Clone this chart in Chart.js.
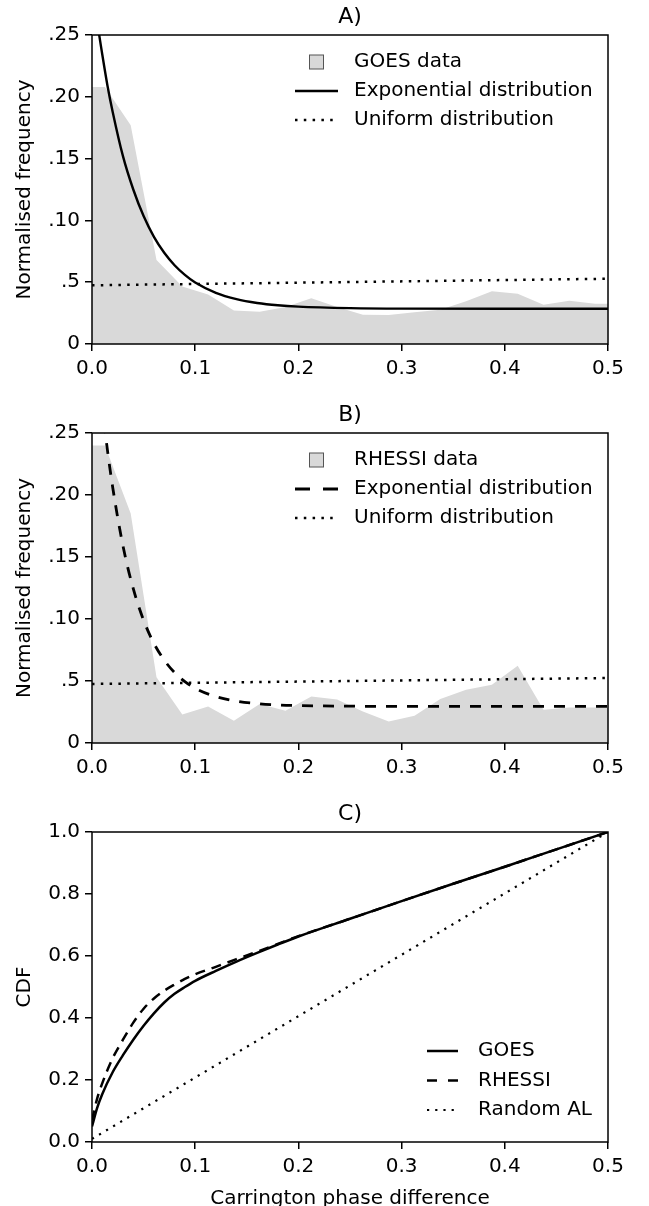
<!DOCTYPE html>
<html>
<head>
<meta charset="utf-8">
<script src="https://cdn.jsdelivr.net/npm/chart.js@4.4.1/dist/chart.umd.min.js"></script>
<style>
  html, body { margin: 0; padding: 0; background: #fff; }
  body { width: 649px; height: 1206px; position: relative; overflow: hidden; }
  .panel { position: absolute; left: 0; width: 649px; }
  canvas { display: block; }
</style>
</head>
<body>
<div class="panel" style="top:0;height:390px"><canvas id="chartA" width="649" height="390"></canvas></div>
<div class="panel" style="top:398px;height:391px"><canvas id="chartB" width="649" height="391"></canvas></div>
<div class="panel" style="top:797px;height:409px"><canvas id="chartC" width="649" height="409"></canvas></div>
<script>
// values
const histPhase = [0, 0.0125, 0.0375, 0.0625, 0.0875, 0.1125, 0.1375, 0.1625, 0.1875, 0.2125, 0.2375,
    0.2625, 0.2875, 0.3125, 0.3375, 0.3625, 0.3875, 0.4125, 0.4375, 0.4625, 0.4875, 0.5];
const goesFreq = [0.208, 0.208, 0.177, 0.068, 0.0466, 0.040, 0.0272, 0.0261, 0.030, 0.037, 0.030,
    0.0237, 0.0235, 0.0256, 0.0277, 0.0345, 0.0426, 0.0407, 0.0318, 0.035, 0.0326, 0.0326];
const rhessiFreq = [0.240, 0.240, 0.185, 0.053, 0.023, 0.0295, 0.018, 0.0315, 0.026, 0.0376, 0.035,
    0.0255, 0.0174, 0.022, 0.0355, 0.043, 0.047, 0.0623, 0.0269, 0.0287, 0.0287, 0.0285];

const expPhase = [0, 0.005, 0.01, 0.015, 0.02, 0.03, 0.04, 0.05, 0.06, 0.07, 0.08, 0.09, 0.10,
    0.12, 0.14, 0.16, 0.18, 0.20, 0.25, 0.30, 0.40, 0.50];
const goesExp = [0.292, 0.261, 0.234, 0.209, 0.188, 0.152, 0.125, 0.1035, 0.0867, 0.0738, 0.0637, 0.0559, 0.0497,
    0.0414, 0.0363, 0.0332, 0.0313, 0.0302, 0.029, 0.0286, 0.0285, 0.0285];
const rhessiExp = [0.36, 0.312, 0.271, 0.236, 0.2065, 0.159, 0.1244, 0.099, 0.0804, 0.0668, 0.0568, 0.0495, 0.0441,
    0.0374, 0.0337, 0.0318, 0.0307, 0.0302, 0.0297, 0.0295, 0.0295, 0.0295];

const uniformPhase = [0, 0.5];
const goesUniform = [0.0475, 0.0528];
const rhessiUniform = [0.0476, 0.0524];

const cdfPhase = [0, 0.005, 0.01, 0.02, 0.03, 0.04, 0.05, 0.06, 0.07, 0.08, 0.09, 0.10,
    0.12, 0.14, 0.16, 0.18, 0.20, 0.25, 0.30, 0.35, 0.40, 0.45, 0.50];
const goesCdf = [0.05, 0.11, 0.155, 0.225, 0.28, 0.33, 0.375, 0.415, 0.45, 0.478, 0.50, 0.52,
    0.552, 0.582, 0.61, 0.637, 0.663, 0.72, 0.777, 0.833, 0.888, 0.944, 1.0];
const rhessiCdf = [0.07, 0.14, 0.19, 0.27, 0.33, 0.385, 0.43, 0.463, 0.488, 0.508, 0.526, 0.541,
    0.565, 0.59, 0.614, 0.639, 0.664, 0.72, 0.777, 0.833, 0.888, 0.944, 1.0];
const randomPhase = [0, 0.5];
const randomCdf = [0.01, 1.0];

const phaseTicks = ['0.0', '0.1', '0.2', '0.3', '0.4', '0.5'];
const freqTicks = ['0', '.5', '.10', '.15', '.20', '.25'];
const cdfTicks = ['0.0', '0.2', '0.4', '0.6', '0.8', '1.0'];

const FILL = '#d9d9d9';

Chart.defaults.font.family = "'DejaVu Sans', sans-serif";
Chart.defaults.font.size = 20;
Chart.defaults.color = '#000';

const pts = (xs, ys) => xs.map((x, i) => ({ x: x, y: ys[i] }));

// box round the plot area, drawn over the data
const frame = {
    id: 'frame',
    afterDatasetsDraw(chart) {
        const a = chart.chartArea, ctx = chart.ctx;
        ctx.save();
        ctx.strokeStyle = '#000';
        ctx.lineWidth = 1.5;
        ctx.strokeRect(a.left, a.top, a.right - a.left, a.bottom - a.top);
        ctx.restore();
    }
};

// legend inside the axes, built from the datasets
const insetLegend = {
    id: 'insetLegend',
    afterDraw(chart, args, opts) {
        const ctx = chart.ctx;
        ctx.save();
        ctx.font = "20px 'DejaVu Sans'";
        ctx.textBaseline = 'middle';
        chart.data.datasets.forEach((ds, i) => {
            const y = opts.firstRow + i * opts.rowGap;
            if (ds.fill) {
                const cx = opts.sampleX + opts.sampleLen / 2;
                ctx.fillStyle = FILL;
                ctx.fillRect(cx - 7, y - 7, 14, 14);
                ctx.strokeStyle = '#555';
                ctx.lineWidth = 1;
                ctx.strokeRect(cx - 7, y - 7, 14, 14);
            } else {
                ctx.beginPath();
                ctx.strokeStyle = '#000';
                ctx.lineWidth = ds.borderWidth;
                ctx.setLineDash(ds.legendDash || ds.borderDash || []);
                ctx.moveTo(opts.sampleX, y);
                ctx.lineTo(opts.sampleX + opts.sampleLen, y);
                ctx.stroke();
                ctx.setLineDash([]);
            }
            ctx.fillStyle = '#000';
            ctx.fillText(ds.label, opts.textX, y);
        });
        ctx.restore();
    }
};

function axisX(labels, xHeight, title) {
    return {
        type: 'linear', min: 0, max: 0.5,
        afterFit: (s) => { s.height = xHeight; },
        border: { display: false },
        grid: { drawOnChartArea: false, drawTicks: true, tickLength: 7, color: '#000', lineWidth: 1.5 },
        ticks: { stepSize: 0.1, padding: 6, autoSkip: false, maxRotation: 0, callback: (v, i) => labels[i] },
        title: title ? { display: true, text: title, padding: { top: 0, bottom: 0 }, font: { size: 20, lineHeight: 0.75 } } : { display: false }
    };
}

function axisY(labels, max, step, title) {
    return {
        type: 'linear', min: 0, max: max,
        afterFit: (s) => { s.width = 92; },
        border: { display: false },
        grid: { drawOnChartArea: false, drawTicks: true, tickLength: 7, color: '#000', lineWidth: 1.5 },
        ticks: { stepSize: step, padding: 5, autoSkip: false, callback: (v, i) => labels[i] },
        title: { display: true, text: title, padding: { top: 13, bottom: 0 }, font: { size: 20 } }
    };
}

function makePanel(id, name, datasets, scales, legendPos) {
    new Chart(document.getElementById(id).getContext('2d'), {
        type: 'line',
        data: { datasets: datasets },
        options: {
            responsive: false, animation: false, devicePixelRatio: 1,
            layout: { padding: { left: 0, right: 41, top: 0, bottom: 0 } },
            elements: { point: { radius: 0 } },
            scales: scales,
            plugins: {
                legend: { display: false },
                tooltip: { enabled: false },
                title: { display: true, text: name, fullSize: false, font: { size: 22, weight: 'normal' }, padding: { top: 4, bottom: 4.6 } },
                insetLegend: legendPos
            }
        },
        plugins: [frame, insetLegend]
    });
}

const histSet = (label, ys) => ({
    label: label, data: pts(histPhase, ys), fill: 'origin', backgroundColor: FILL,
    borderWidth: 0, borderColor: FILL, tension: 0, order: 3
});
const curveSet = (label, xs, ys, width, dash, order, legendDash) => ({
    label: label, data: pts(xs, ys), fill: false, borderColor: '#000', borderWidth: width,
    borderDash: dash, legendDash: legendDash, cubicInterpolationMode: 'monotone', borderCapStyle: 'butt', order: order
});

const topLegend = { sampleX: 295, sampleLen: 43, textX: 354, firstRow: 62, rowGap: 29 };

makePanel('chartA', 'A)', [
    histSet('GOES data', goesFreq),
    curveSet('Exponential distribution', expPhase, goesExp, 2.4, [], 1),
    curveSet('Uniform distribution', uniformPhase, goesUniform, 2.5, [2.5, 6.3], 2)
], { x: axisX(phaseTicks, 46), y: axisY(freqTicks, 0.25, 0.05, 'Normalised frequency') }, topLegend);

makePanel('chartB', 'B)', [
    histSet('RHESSI data', rhessiFreq),
    curveSet('Exponential distribution', expPhase, rhessiExp, 2.8, [11, 10], 1, [15, 13]),
    curveSet('Uniform distribution', uniformPhase, rhessiUniform, 2.5, [2.5, 6.3], 2)
], { x: axisX(phaseTicks, 46), y: axisY(freqTicks, 0.25, 0.05, 'Normalised frequency') }, topLegend);

makePanel('chartC', 'C)', [
    curveSet('GOES', cdfPhase, goesCdf, 2.5, [], 1),
    curveSet('RHESSI', cdfPhase, rhessiCdf, 2.5, [10, 7], 2, [10, 11]),
    curveSet('Random AL', randomPhase, randomCdf, 2.2, [2.2, 6], 3)
], { x: axisX(phaseTicks, 64, 'Carrington phase difference'), y: axisY(cdfTicks, 1.0, 0.2, 'CDF') },
   { sampleX: 427, sampleLen: 31, textX: 478, firstRow: 254, rowGap: 29.5 });
</script>
</body>
</html>
